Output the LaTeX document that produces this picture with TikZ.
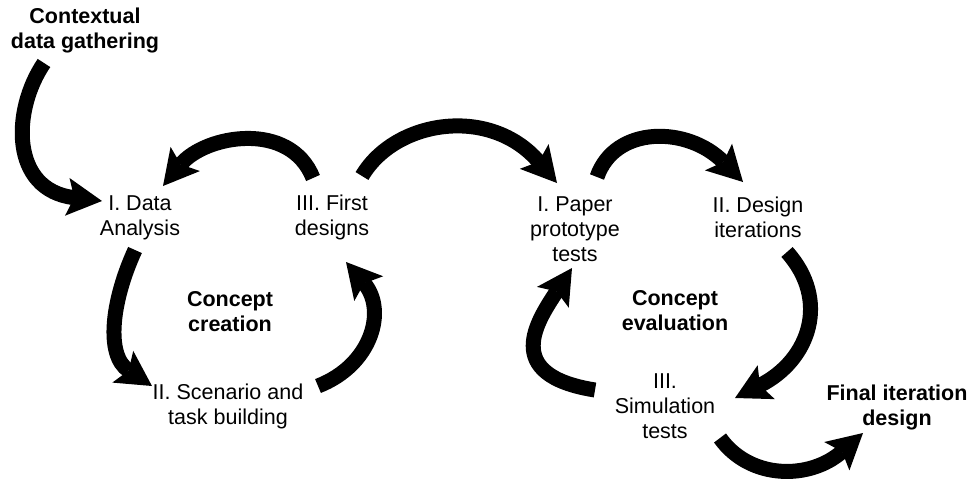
\documentclass[tikz,border=0pt]{standalone}
\usepackage{fontspec}
\setmainfont{Liberation Sans}
\usetikzlibrary{arrows.meta}
\begin{document}
\begin{tikzpicture}[x=1pt,y=-1pt,
  lbl/.style={align=center, inner sep=0pt, font=\fontsize{21.5}{25}\selectfont},
  blbl/.style={lbl, font=\fontsize{21.5}{25}\selectfont\bfseries},
  flow/.style={line width=15pt, draw=black,
    -{Stealth[length=35pt,width=38pt,inset=7pt,line width=0pt]}}]
\useasboundingbox (0,0) rectangle (978,480);
% labels
\node[blbl] (ctx)    at (85,30)   {Contextual\\data gathering};
\node[lbl]  (data)   at (140,218) {I. Data\\Analysis};
\node[lbl]  (first)  at (332,217) {III. First\\designs};
\node[lbl]  (paper)  at (575,229) {I. Paper\\prototype\\tests};
\node[lbl]  (design) at (758,217) {II. Design\\iterations};
\node[lbl]  (scen)   at (228,406) {II. Scenario and\\task building};
\node[lbl]  (sim)    at (665,406) {III.\\Simulation\\tests};
\node[blbl] (final)  at (897,407) {Final iteration\\design};
\node[blbl] (ccre)   at (230,312) {Concept\\creation};
\node[blbl] (ceval)  at (675,311) {Concept\\evaluation};
% connector ends
\coordinate (ctxS)    at (44,63);
\coordinate (dataT)   at (102,201);
\coordinate (firstS)  at (313,178);
\coordinate (dataT2)  at (163,186);
\coordinate (firstS2) at (362,176);
\coordinate (paperT)  at (557,183);
\coordinate (paperS)  at (597,177);
\coordinate (designT) at (743,182);
\coordinate (designS) at (787,252);
\coordinate (simT)    at (735,398);
\coordinate (simS)    at (595,390);
\coordinate (paperT2) at (572,268);
\coordinate (simS2)   at (720,438);
\coordinate (finalT)  at (863,433);
\coordinate (scenS)   at (318,386);
\coordinate (firstT)  at (346,262);
\coordinate (dataS)   at (135,250);
\coordinate (scenT)   at (152,386);
% connectors
\draw[flow] (ctxS) .. controls (12,110) and (10,190) .. (dataT);
\draw[flow] (firstS) .. controls (290,120) and (205,135) .. (dataT2);
\draw[flow] (firstS2) .. controls (395,120) and (490,105) .. (paperT);
\draw[flow] (paperS) .. controls (615,125) and (688,126) .. (designT);
\draw[flow] (designS) .. controls (830,300) and (810,360) .. (simT);
\draw[flow] (simS) .. controls (500,375) and (538,320) .. (paperT2);
\draw[flow] (simS2) .. controls (750,480) and (810,480) .. (finalT);
\draw[flow] (scenS) .. controls (372,365) and (387,310) .. (firstT);
\draw[flow] (dataS) .. controls (112,300) and (105,355) .. (scenT);
\end{tikzpicture}
\end{document}
